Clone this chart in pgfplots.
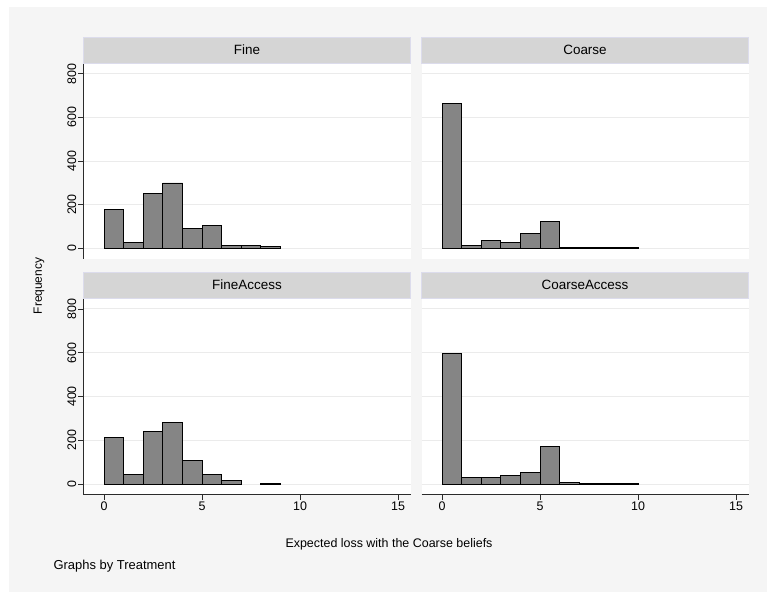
\documentclass[border=0pt]{standalone}
\usepackage{pgfplots}
\pgfplotsset{compat=1.18}
\usepackage{fontspec}
\setmainfont{Liberation Sans}
\definecolor{bggray}{HTML}{F5F5F5}
\definecolor{hdrgray}{HTML}{D5D5D5}
\definecolor{hdrline}{HTML}{DCDCEC}
\definecolor{bargray}{HTML}{858585}
\definecolor{gridgray}{HTML}{EBEBEB}
\definecolor{axisdark}{HTML}{2B2B2B}
\pgfplotsset{
 panel/.style={
  scale only axis, width=327bp,
  anchor=south west,
  xmin=-1.05, xmax=15.63, ymin=-50, ymax=850,
  xtick={0,5,10,15}, ytick={0,200,400,600,800},
  ymajorgrids, grid style={gridgray, line width=1bp},
  axis background/.style={fill=white},
  axis y line*=left, axis x line*=bottom,
  axis line style={axisdark, line width=1bp},
  tick style={axisdark, line width=0.8bp},
  tick align=outside, major tick length=5bp,
  /pgf/number format/assume math mode=true,
  ticklabel style={font=\fontsize{12.5}{14}\selectfont},
  yticklabel style={rotate=90, anchor=south, inner sep=2bp},
  xticklabel style={inner sep=2bp},
  clip=false,
 },
 toppanel/.style={height=196bp, xtick=\empty, x axis line style={draw=none}},
 botpanel/.style={height=197bp},
 rightpanel/.style={yticklabels={}, y axis line style={draw=none}, y tick style={draw=none}},
 hist/.style={ybar interval, fill=bargray, draw=black, line width=0.9bp},
}
\newcommand{\header}[1]{%
  \draw[fill=hdrgray, draw=hdrline, line width=0.8bp] (rel axis cs:0,1) rectangle ([yshift=26bp]rel axis cs:1,1);
  \node[font=\fontsize{13.5}{15}\selectfont] at ([yshift=13bp]rel axis cs:0.5,1) {#1};}
\begin{document}
\begin{tikzpicture}
\fill[white] (0bp,0bp) rectangle (767bp,592bp);
\fill[bggray] (9bp,0bp) rectangle (767bp,585bp);
% Fine
\begin{axis}[panel, toppanel, at={(83.5bp,333bp)}]
\addplot[hist] coordinates {(0,176) (1,27) (2,252) (3,299) (4,89) (5,102) (6,14) (7,13) (8,6) (9,0)};
\header{Fine}
\end{axis}
% Coarse
\begin{axis}[panel, toppanel, rightpanel, at={(421.5bp,333bp)}]
\addplot[hist] coordinates {(0,665) (1,14) (2,33) (3,25) (4,66) (5,121) (6,3) (7,3) (8,3) (9,3) (10,0)};
\header{Coarse}
\end{axis}
% FineAccess
\begin{axis}[panel, botpanel, at={(83.5bp,97bp)}]
\addplot[hist] coordinates {(0,214) (1,42) (2,242) (3,283) (4,106) (5,42) (6,15) (7,0)};
\addplot[hist] coordinates {(8,2) (9,0)};
\header{FineAccess}
\end{axis}
% CoarseAccess
\begin{axis}[panel, botpanel, rightpanel, at={(421.5bp,97bp)}]
\addplot[hist] coordinates {(0,595) (1,28) (2,28) (3,41) (4,55) (5,171) (6,8) (7,1) (8,1) (9,1) (10,0)};
\header{CoarseAccess}
\end{axis}
\node[rotate=90, font=\fontsize{12}{14}\selectfont] at (39bp,306bp) {Frequency};
\node[font=\fontsize{12.5}{14}\selectfont] at (389bp,48bp) {Expected loss with the Coarse beliefs};
\node[anchor=west, font=\fontsize{13}{15}\selectfont] at (50bp,26bp) {Graphs by Treatment};
\end{tikzpicture}
\end{document}
